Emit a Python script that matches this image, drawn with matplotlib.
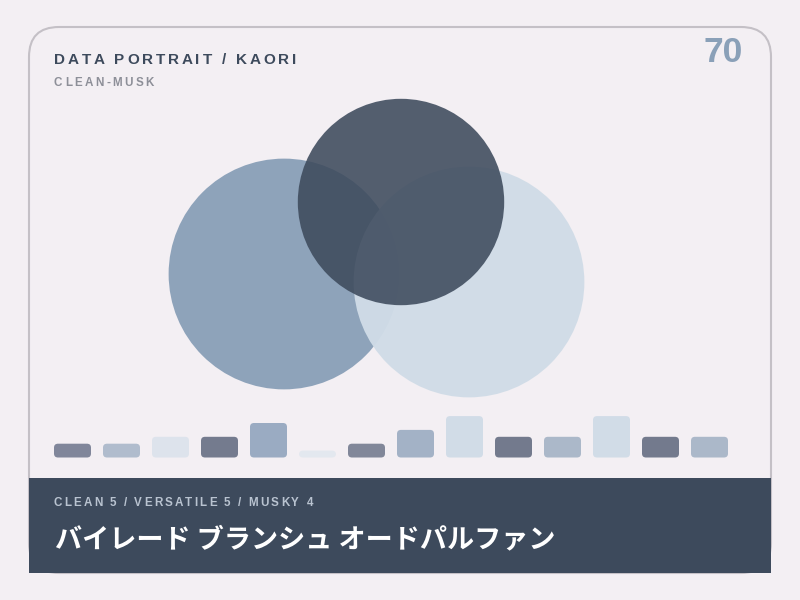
import matplotlib
matplotlib.use("Agg")
import matplotlib.pyplot as plt
from matplotlib.patches import Circle, FancyBboxPatch, Rectangle
import numpy as np

# data
title = "DATA PORTRAIT / KAORI"
subtitle = "CLEAN-MUSK"
score = "70"
traits = ["Clean", "Versatile", "Musky"]
trait_scores = [5, 5, 4]
trait_colors = ["#8aa0b8", "#d0dce7", "#3d4a5c"]
footer = "CLEAN 5 / VERSATILE 5 / MUSKY 4"
name = "バイレード ブランシュ オードパルファン"
bar_values = [2, 2, 3, 3, 5, 1, 2, 4, 6, 3, 3, 6, 3, 3]
bar_colors = ["#80869a", "#b0bccd", "#dde3ec", "#747b8e", "#9aabc2", "#e3e8ef", "#818799",
              "#a3b2c6", "#d1dce7", "#737a8d", "#abb8c9", "#d1dce7", "#737a8d", "#abb8c9"]

bg = "#f3eff3"
fig = plt.figure(figsize=(8, 6), dpi=100, facecolor=bg)
ax = fig.add_axes([0, 0, 1, 1])
ax.set_xlim(0, 800)
ax.set_ylim(600, 0)
ax.axis("off")

# card + footer band
ax.add_patch(FancyBboxPatch((29, 27), 742, 546, boxstyle="round,pad=0,rounding_size=30",
                            fc=bg, ec="#c4c0c6", lw=1.5, zorder=1))
ax.add_patch(Rectangle((29, 478), 742, 95, fc="#3d4a5c", ec="none", zorder=5))

# circles, area ~ score
centers = [(284, 274), (469, 282), (401, 202)]
k = 51.6
for (cx, cy), s, c in zip(centers, trait_scores, trait_colors):
    a = 0.88 if c == "#3d4a5c" else 0.96
    ax.add_patch(Circle((cx, cy), k * np.sqrt(s), fc=c, ec="none", alpha=a, zorder=2))

# bars
base, unit, pitch, w = 457.5, 6.9, 49, 37
for i, (v, c) in enumerate(zip(bar_values, bar_colors)):
    h = v * unit
    ax.add_patch(FancyBboxPatch((54 + i * pitch, base - h), w, h,
                                boxstyle="round,pad=0,rounding_size=4",
                                fc=c, ec="none", zorder=3))

renderer = fig.canvas.get_renderer()


def spaced(x0, x1, y, s, **kw):
    # place characters one by one so the text spans x0..x1
    widths = []
    for ch in s:
        if ch == " ":
            t1 = ax.text(0, 0, "a a", **kw)
            t2 = ax.text(0, 0, "aa", **kw)
            wd = t1.get_window_extent(renderer).width - t2.get_window_extent(renderer).width
            t1.remove(); t2.remove()
        else:
            t = ax.text(0, 0, ch, **kw)
            wd = t.get_window_extent(renderer).width
            t.remove()
        widths.append(wd)
    track = (x1 - x0 - sum(widths)) / (len(s) - 1)
    x = x0
    for ch, wd in zip(s, widths):
        if ch != " ":
            ax.text(x, y, ch, ha="left", va="center", **kw)
        x += wd + track


sans = ["Liberation Sans", "DejaVu Sans"]
spaced(54, 296, 60, title, fontsize=11, fontweight="bold", color="#3d4a5c",
       family=sans, zorder=6)
spaced(54, 154, 83, subtitle, fontsize=8.4, fontweight="bold", color="#8d8f98",
       family=sans, zorder=6)
ax.text(742.5, 52, score, ha="right", va="center", fontsize=25.5, fontweight="bold",
        color="#8aa0b8", family=sans, zorder=6)
spaced(54, 313, 503.5, footer, fontsize=8.4, fontweight="bold", color="#b9c3d0",
       family=sans, zorder=6)
ax.text(55, 539, name, ha="left", va="center", fontsize=19.5, fontweight="bold",
        color="white", family=["Noto Sans CJK JP", "DejaVu Sans"], zorder=6)

fig.savefig("out.png", dpi=100, facecolor=bg)
